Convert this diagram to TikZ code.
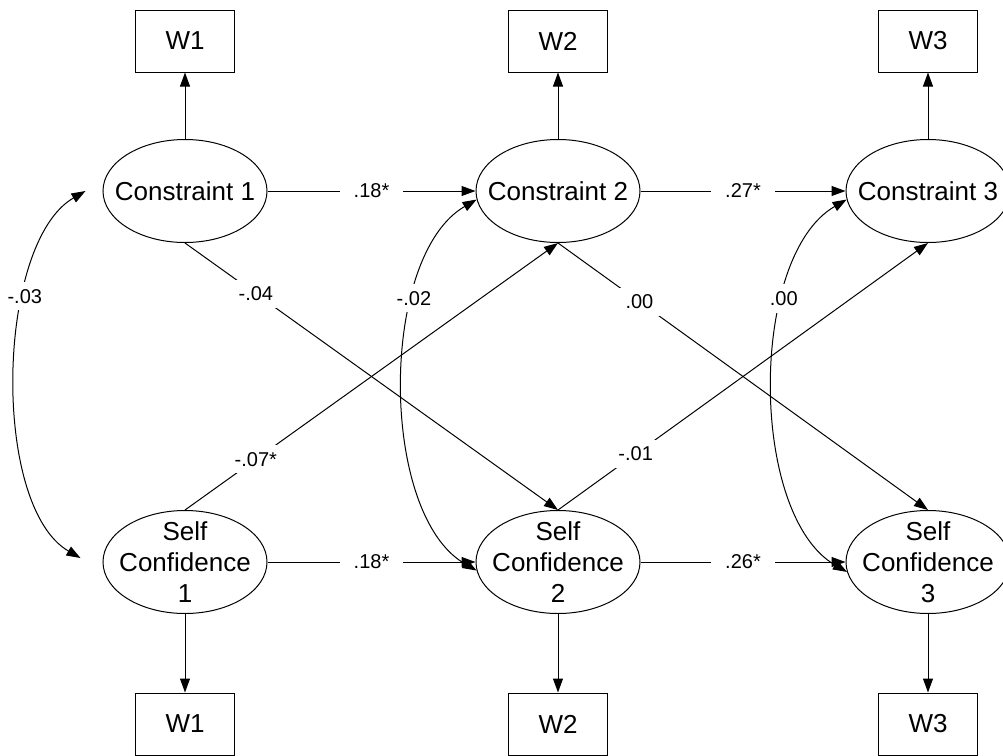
\documentclass[tikz,border=0pt]{standalone}
\usepackage{fontspec}
\setmainfont{Liberation Sans}
\usetikzlibrary{shapes.geometric,arrows.meta}

\tikzset{
  latent/.style={draw,ellipse,minimum width=82pt,minimum height=51.5pt,
    inner xsep=-7pt,inner ysep=-3pt,align=center,font=\fontsize{13}{15.6}\selectfont},
  observed/.style={draw,rectangle,minimum width=49.5pt,minimum height=31pt,
    font=\fontsize{13}{15.6}\selectfont},
  coef/.style={fill=white,inner xsep=7pt,inner ysep=3.5pt,font=\fontsize{10}{12}\selectfont},
  reg/.style={-{Triangle[length=7pt,width=5pt]}},
  cov/.style={{Triangle[length=7pt,width=5pt]}-{Triangle[length=7pt,width=5pt]},looseness=0.78},
}

\begin{document}
\begin{tikzpicture}[x=0.5pt,y=-0.5pt,line width=0.5pt]
    \useasboundingbox (0,0) rectangle (1003,756);
    % latent variables
    \node[latent] (C1) at (185,191) {Constraint 1};
    \node[latent] (C2) at (558,191) {Constraint 2};
    \node[latent] (C3) at (928,191) {Constraint 3};
    \node[latent] (S1) at (185,562) {Self\\Confidence\\1};
    \node[latent] (S2) at (558,562) {Self\\Confidence\\2};
    \node[latent] (S3) at (928,562) {Self\\Confidence\\3};
    % indicators
    \node[observed] (WT1) at (185,41) {W1};
    \node[observed] (WT2) at (558,41) {W2};
    \node[observed] (WT3) at (928,41) {W3};
    \node[observed] (WB1) at (185,724) {W1};
    \node[observed] (WB2) at (558,724) {W2};
    \node[observed] (WB3) at (928,724) {W3};
    \draw[reg] (C1) -- (WT1);
    \draw[reg] (C2) -- (WT2);
    \draw[reg] (C3) -- (WT3);
    \draw[reg] (S1) -- (WB1);
    \draw[reg] (S2) -- (WB2);
    \draw[reg] (S3) -- (WB3);
    % stability paths
    \draw[reg] (C1) -- (C2) node[coef,midway] {.18*};
    \draw[reg] (C2) -- (C3) node[coef,midway] {.27*};
    \draw[reg] (S1) -- (S2) node[coef,midway] {.18*};
    \draw[reg] (S2) -- (S3) node[coef,midway] {.26*};
    % cross-lagged paths
    \draw[reg] (C1.south) -- (S2.north) node[coef,pos=.19] {-.04};
    \draw[reg] (S1.north) -- (C2.south) node[coef,pos=.19] {-.07*};
    \draw[reg] (C2.south) -- (S3.north) node[coef,pos=.22] {.00};
    \draw[reg] (S2.north) -- (C3.south) node[coef,pos=.21] {-.01};
    % covariances
    \draw[cov,looseness=0.72] ([xshift=-8.5pt]C1.west) to[out=210,in=150] node[coef,pos=.33] {-.03} ([xshift=-11pt,yshift=2pt]S1.west);
    \draw[cov] (C2.186) to[out=210,in=150] node[coef,pos=.31] {-.02} (S2.186);
    \draw[cov] (C3.186) to[out=210,in=150] node[coef,pos=.31] {.00} (S3.187);
\end{tikzpicture}
\end{document}
